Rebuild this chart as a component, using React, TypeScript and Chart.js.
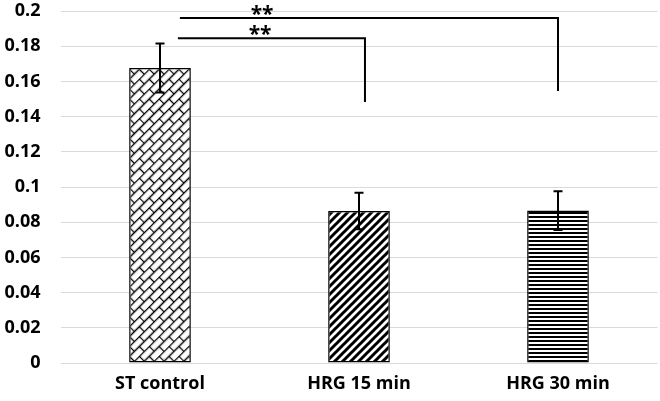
import { useEffect, useRef } from 'react';
import { Chart, registerables } from 'chart.js';

Chart.register(...registerables);

const categories = ['ST control', 'HRG 15 min', 'HRG 30 min'];
const means = [0.1676, 0.0864, 0.0866];
const errors = [0.0139, 0.0104, 0.011];
const yTickLabels = ['0', '0.02', '0.04', '0.06', '0.08', '0.1', '0.12', '0.14', '0.16', '0.18', '0.2'];

// significance brackets (category index positions / value levels)
const sigLabels = ['**', '**'];
const sigStart = [0.09, 0.1];
const sigEnd = [1.03, 2.0];
const sigLevel = [0.1845, 0.196];
const sigDrop = [0.1483, 0.1545];
const sigTextPos = [0.503, 0.513];

function makeTile(w: number, h: number, draw: (c: CanvasRenderingContext2D) => void) {
  const cv = document.createElement('canvas');
  cv.width = w;
  cv.height = h;
  const c = cv.getContext('2d')!;
  c.fillStyle = '#fff';
  c.fillRect(0, 0, w, h);
  draw(c);
  return cv;
}

function makePatterns(ctx: CanvasRenderingContext2D) {
  const brick = makeTile(14, 14, (c) => {
    c.strokeStyle = '#000';
    c.lineWidth = 1.3;
    c.beginPath();
    c.moveTo(0, 0.5); c.lineTo(14, 0.5);
    c.moveTo(0, 7.5); c.lineTo(14, 7.5);
    c.moveTo(0.5, 0); c.lineTo(0.5, 7.5);
    c.moveTo(7.5, 7.5); c.lineTo(7.5, 14);
    c.stroke();
  });
  const p1 = ctx.createPattern(brick, 'repeat')!;
  try {
    p1.setTransform(new DOMMatrix().rotateSelf(-45));
  } catch (e) {}
  const diag = makeTile(8, 8, (c) => {
    c.strokeStyle = '#000';
    c.lineWidth = 3;
    c.beginPath();
    c.moveTo(-2, 2); c.lineTo(2, -2);
    c.moveTo(-2, 10); c.lineTo(10, -2);
    c.moveTo(6, 10); c.lineTo(10, 6);
    c.stroke();
  });
  const p2 = ctx.createPattern(diag, 'repeat')!;
  const horiz = makeTile(4, 4, (c) => {
    c.fillStyle = '#000';
    c.fillRect(0, 0, 4, 2);
  });
  const p3 = ctx.createPattern(horiz, 'repeat')!;
  return [p1, p2, p3];
}

const overlayPlugin = {
  id: 'overlay',
  afterDatasetsDraw(chart: any) {
    const ctx = chart.ctx as CanvasRenderingContext2D;
    const x = chart.scales.x;
    const y = chart.scales.y;
    ctx.save();
    ctx.strokeStyle = '#000';
    ctx.lineWidth = 2;
    // error bars
    means.forEach((m, i) => {
      const px = x.getPixelForValue(i);
      const top = y.getPixelForValue(m + errors[i]);
      const bot = y.getPixelForValue(m - errors[i]);
      ctx.beginPath();
      ctx.moveTo(px, top); ctx.lineTo(px, bot);
      ctx.moveTo(px - 4.5, top); ctx.lineTo(px + 4.5, top);
      ctx.moveTo(px - 4.5, bot); ctx.lineTo(px + 4.5, bot);
      ctx.stroke();
    });
    // significance brackets
    sigLabels.forEach((lab, i) => {
      const x0 = x.getPixelForValue(sigStart[i]);
      const x1 = x.getPixelForValue(sigEnd[i]);
      const yl = y.getPixelForValue(sigLevel[i]);
      const yd = y.getPixelForValue(sigDrop[i]);
      ctx.beginPath();
      ctx.moveTo(x0, yl); ctx.lineTo(x1, yl); ctx.lineTo(x1, yd);
      ctx.stroke();
      ctx.fillStyle = '#000';
      ctx.font = 'bold 21px "Open Sans"';
      ctx.textAlign = 'center';
      ctx.textBaseline = 'alphabetic';
      ctx.fillText(lab, x.getPixelForValue(sigTextPos[i]), yl + 3);
    });
    ctx.restore();
  },
};

export default function App() {
  const ref = useRef<HTMLCanvasElement>(null);
  useEffect(() => {
    const canvas = ref.current!;
    const ctx = canvas.getContext('2d')!;
    const patterns = makePatterns(ctx);
    const chart = new Chart(canvas, {
      type: 'bar',
      data: {
        labels: categories,
        datasets: [
          {
            data: means,
            backgroundColor: patterns,
            borderColor: '#000',
            borderWidth: 1.5,
            borderSkipped: false,
            categoryPercentage: 1,
            barPercentage: 0.31,
          },
        ],
      },
      options: {
        responsive: false,
        animation: false,
        devicePixelRatio: 1,
        layout: { padding: { top: 11, right: 2.5, bottom: 0, left: 0 } },
        plugins: { legend: { display: false }, tooltip: { enabled: false } },
        scales: {
          x: {
            grid: { display: false, drawTicks: false },
            border: { display: false },
            ticks: {
              color: '#000',
              padding: 10,
              font: { family: '"Open Sans"', size: 18, weight: 'bold' },
            },
            afterFit: (s: any) => {
              s.height = 38;
              s.paddingLeft = 0;
              s.paddingRight = 0;
            },
          },
          y: {
            min: 0,
            max: 0.2,
            grid: { color: '#d9d9d9', lineWidth: 1, drawTicks: false },
            border: { display: false },
            ticks: {
              stepSize: 0.02,
              color: '#000',
              padding: 20,
              font: { family: '"Open Sans"', size: 18, weight: 'bold' },
              callback: (_v: any, idx: number) => yTickLabels[idx],
            },
            afterFit: (s: any) => {
              s.width = 60.5;
              s.paddingTop = 0;
              s.paddingBottom = 0;
            },
          },
        },
      },
      plugins: [overlayPlugin],
    });
    return () => chart.destroy();
  }, []);
  return (
    <div style={{ position: 'absolute', left: 0, top: 0, width: 660, height: 401 }}>
      <canvas ref={ref} width={660} height={401} />
    </div>
  );
}
